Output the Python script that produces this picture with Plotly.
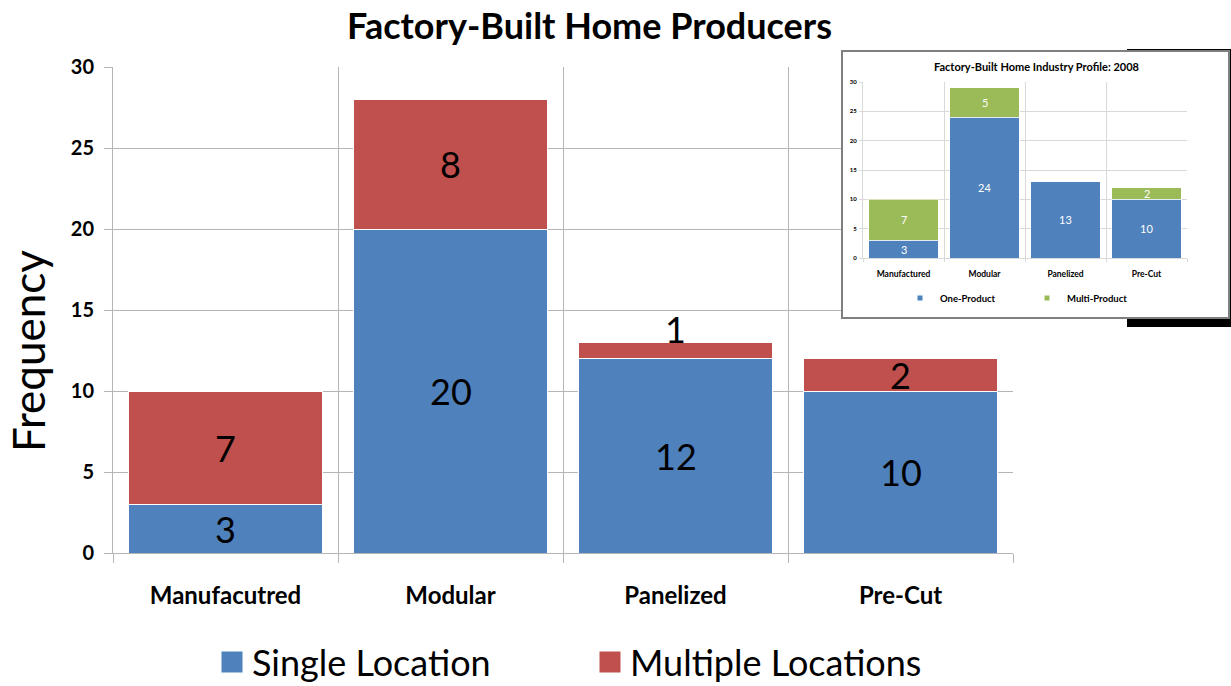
import plotly.graph_objects as go

# ---- main chart data ----
categories = ["Manufacutred", "Modular", "Panelized", "Pre-Cut"]
single_location = [3, 20, 12, 10]
multiple_locations = [7, 8, 1, 2]
main_y_ticks = [0, 5, 10, 15, 20, 25, 30]

# ---- inset chart data ----
inset_categories = ["Manufactured", "Modular", "Panelized", "Pre-Cut"]
one_product = [3, 24, 13, 10]
multi_product = [7, 5, 0, 2]
inset_y_ticks = [0, 5, 10, 15, 20, 25, 30]

BLUE = "#4F81BD"
RED = "#C0504D"
GREEN = "#9BBB59"
GRID = "#B5B5B5"
INSET_GRID = "#D9D9D9"
FONT = "Lato"

W, H = 1231, 686


def fx(p):
    return p / W


def fy(p):
    return (H - p) / H


fig = go.Figure()

# main stacked bars
fig.add_trace(go.Bar(x=categories, y=single_location, name="Single Location",
                     marker=dict(color=BLUE, line=dict(color="white", width=1)),
                     width=0.86, showlegend=False, xaxis="x", yaxis="y"))
fig.add_trace(go.Bar(x=categories, y=multiple_locations, name="Multiple Locations",
                     marker=dict(color=RED, line=dict(color="white", width=1)),
                     width=0.86, showlegend=False, xaxis="x", yaxis="y"))

# empty trace so the inset panel frame gets its own subplot (white card)
fig.add_trace(go.Scatter(x=[None], y=[None], mode="markers", showlegend=False,
                         hoverinfo="skip", xaxis="x2", yaxis="y2"))

# inset stacked bars
fig.add_trace(go.Bar(x=inset_categories, y=one_product, name="One-Product",
                     marker=dict(color=BLUE, line=dict(color="white", width=0.6)),
                     width=0.855, showlegend=False, xaxis="x3", yaxis="y3"))
fig.add_trace(go.Bar(x=inset_categories, y=multi_product, name="Multi-Product",
                     marker=dict(color=GREEN, line=dict(color="white", width=0.6)),
                     width=0.855, showlegend=False, xaxis="x3", yaxis="y3"))

# legend entries (square swatches)
for name, color in [("Single Location", BLUE), ("Multiple Locations", RED)]:
    fig.add_trace(go.Scatter(x=[None], y=[None], mode="markers", name=name,
                             marker=dict(symbol="square", size=16, color=color,
                                         line=dict(color=color, width=5)),
                             legend="legend", xaxis="x", yaxis="y"))
for name, color in [("One-Product", BLUE), ("Multi-Product", GREEN)]:
    fig.add_trace(go.Scatter(x=[None], y=[None], mode="markers", name=name,
                             marker=dict(symbol="square", size=5, color=color,
                                         line=dict(width=0)),
                             legend="legend2", xaxis="x3", yaxis="y3"))

annotations = []

# value labels for the main chart
for cat, s, m in zip(categories, single_location, multiple_locations):
    annotations.append(dict(x=cat, y=s / 2, xref="x", yref="y", text=str(s),
                            showarrow=False, font=dict(family=FONT, size=36, color="black")))
    if m > 0:
        if m < 2:
            # segment too thin for the label: sit it just above the bar
            annotations.append(dict(x=cat, y=s + m, xref="x", yref="y", text=str(m),
                                    yanchor="middle", yshift=13, showarrow=False,
                                    font=dict(family=FONT, size=36, color="black")))
        else:
            annotations.append(dict(x=cat, y=s + m / 2, xref="x", yref="y", text=str(m),
                                    showarrow=False,
                                    font=dict(family=FONT, size=36, color="black")))

# value labels for the inset chart
for cat, s, m in zip(inset_categories, one_product, multi_product):
    annotations.append(dict(x=cat, y=s / 2, xref="x3", yref="y3", text=str(s),
                            showarrow=False, font=dict(family=FONT, size=11, color="white")))
    if m > 0:
        annotations.append(dict(x=cat, y=s + m / 2, xref="x3", yref="y3", text=str(m),
                                showarrow=False, font=dict(family=FONT, size=11, color="white")))

# titles
annotations.append(dict(x=fx(589), y=fy(25), xref="paper", yref="paper",
                        text="Factory-Built Home Producers", showarrow=False,
                        xanchor="center", yanchor="middle",
                        font=dict(family=FONT, size=36, color="black", weight="bold")))
annotations.append(dict(x=fx(28), y=fy(351), xref="paper", yref="paper",
                        text="Frequency", showarrow=False, textangle=-90,
                        xanchor="center", yanchor="middle",
                        font=dict(family=FONT, size=44, color="black")))
annotations.append(dict(x=fx(1036), y=fy(67), xref="paper", yref="paper",
                        text="Factory-Built Home Industry Profile: 2008", showarrow=False,
                        xanchor="center", yanchor="middle",
                        font=dict(family=FONT, size=11, color="black", weight="bold")))

# drop shadow behind the inset panel
shapes = [dict(type="rect", xref="paper", yref="paper", layer="below",
               x0=fx(1127), x1=fx(1231), y0=fy(327), y1=fy(49),
               fillcolor="black", line=dict(width=0))]

fig.update_layout(
    width=W, height=H,
    margin=dict(l=0, r=0, t=0, b=0, autoexpand=False),
    paper_bgcolor="white", plot_bgcolor="white",
    barmode="stack",
    font=dict(family=FONT, color="black"),
    annotations=annotations,
    shapes=shapes,
    xaxis=dict(domain=[fx(113), fx(1013)], anchor="y", type="category",
               range=[-0.5, 3.5], tickson="boundaries", ticks="outside", ticklen=9,
               tickcolor=GRID, showgrid=True, gridcolor=GRID, gridwidth=1,
               showline=True, linecolor=GRID, linewidth=1,
               tickfont=dict(family=FONT, size=24, color="black", weight="bold"),
               ticklabelstandoff=21, fixedrange=True),
    yaxis=dict(domain=[fy(553), fy(67)], anchor="x", range=[0, 30],
               tickvals=main_y_ticks, ticks="outside", ticklen=8, tickcolor=GRID,
               showgrid=True, gridcolor=GRID, gridwidth=1, zeroline=False,
               showline=True, linecolor=GRID, linewidth=1,
               tickfont=dict(family=FONT, size=20, color="black", weight="bold"),
               ticklabelstandoff=6, fixedrange=True),
    # inset panel frame
    xaxis2=dict(domain=[fx(843), fx(1228)], anchor="y2", range=[0, 1],
                showgrid=False, zeroline=False, showticklabels=False, ticks="",
                showline=True, mirror=True, linecolor="#7F7F7F", linewidth=1.5,
                fixedrange=True),
    yaxis2=dict(domain=[fy(317), fy(52)], anchor="x2", range=[0, 1],
                showgrid=False, zeroline=False, showticklabels=False, ticks="",
                showline=True, mirror=True, linecolor="#7F7F7F", linewidth=1.5,
                fixedrange=True),
    # inset chart
    xaxis3=dict(domain=[fx(863), fx(1187)], anchor="y3", type="category",
                range=[-0.5, 3.5], tickson="boundaries", ticks="outside", ticklen=3,
                tickcolor=INSET_GRID, showgrid=True, gridcolor=INSET_GRID,
                showline=True, linecolor=INSET_GRID,
                tickfont=dict(family=FONT, size=8.5, color="black", weight="bold"),
                ticklabelstandoff=8, fixedrange=True),
    yaxis3=dict(domain=[fy(258), fy(82)], anchor="x3", range=[0, 30],
                tickvals=inset_y_ticks, ticks="outside", ticklen=3,
                tickcolor=INSET_GRID, showgrid=True, gridcolor=INSET_GRID,
                zeroline=False, showline=True, linecolor=INSET_GRID,
                tickfont=dict(family=FONT, size=6, color="black", weight="bold"),
                ticklabelstandoff=1, fixedrange=True),
    legend=dict(orientation="h", x=fx(212), xanchor="left", y=fy(662), yanchor="middle",
                traceorder="normal",
                font=dict(family=FONT, size=36, color="black"),
                entrywidth=333, bgcolor="rgba(0,0,0,0)"),
    legend2=dict(orientation="h", x=fx(900), xanchor="left", y=fy(298), yanchor="middle",
                 traceorder="normal",
                 font=dict(family=FONT, size=9.5, color="black", weight="bold"),
                 entrywidth=82, bgcolor="rgba(0,0,0,0)"),
)

fig.write_html("out.html")
